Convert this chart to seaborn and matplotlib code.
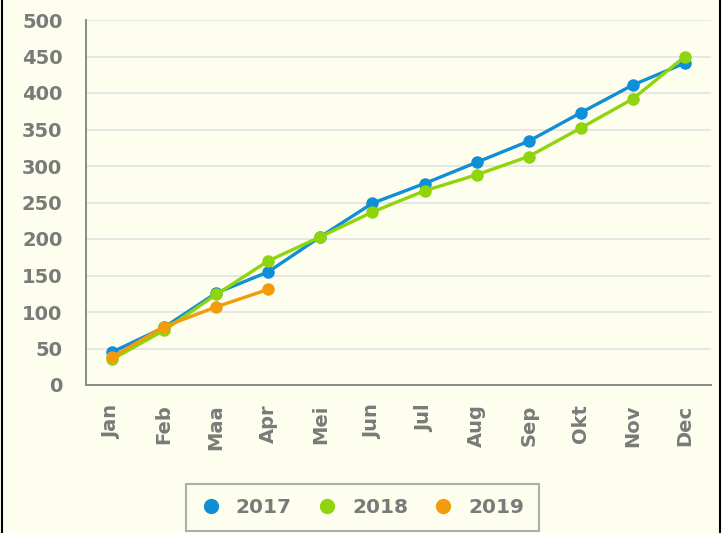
import matplotlib
matplotlib.use("Agg")
import matplotlib.pyplot as plt
from matplotlib.lines import Line2D
import seaborn as sns
import pandas as pd

# monthly cumulative values per year
months = ["Jan", "Feb", "Maa", "Apr", "Mei", "Jun", "Jul", "Aug", "Sep", "Okt", "Nov", "Dec"]
years = ["2017", "2018", "2019"]
values_2017 = [45, 79, 126, 155, 203, 249, 276, 305, 334, 373, 411, 441]
values_2018 = [35, 75, 124, 170, 203, 237, 266, 288, 313, 352, 392, 450]
values_2019 = [38, 80, 107, 131]
colors = ["#0f8fd6", "#8fd40c", "#f29c0c"]

rows = []
for year, vals in zip(years, [values_2017, values_2018, values_2019]):
    for i, v in enumerate(vals):
        rows.append({"pos": i, "value": v, "year": year})
df = pd.DataFrame(rows)

sns.set_style("white")
plt.rcParams["font.family"] = ["DejaVu Sans"]

bg = "#fdfeed"
text_col = "#7a7a7a"

fig = plt.figure(figsize=(7.25, 5.33), dpi=100, facecolor=bg)
ax = fig.add_axes([86 / 725, 1 - 385 / 533, (711 - 86) / 725, 365 / 533])
ax.set_facecolor(bg)

for y in range(50, 501, 50):
    ax.axhline(y, color="#e4e4e4", lw=1.3, zorder=0)

sns.lineplot(data=df, x="pos", y="value", hue="year", palette=colors,
             marker="o", markersize=9, markeredgewidth=0, lw=2.4,
             legend=False, ax=ax, sort=False)

ax.set_xlim(-0.5, 11.5)
ax.set_ylim(0, 500)
ax.set_xticks(range(len(months)))
ax.set_xticklabels(months, rotation=90)
ax.set_yticks(range(0, 501, 50))
ax.set_xlabel("")
ax.set_ylabel("")

for lab in ax.get_xticklabels() + ax.get_yticklabels():
    lab.set_fontweight("bold")
    lab.set_color(text_col)
    lab.set_fontsize(14)

ax.tick_params(axis="both", direction="out", length=8, width=1.3, color="#8a8a8a")
ax.tick_params(axis="y", pad=9)
ax.tick_params(axis="x", pad=6)
for side in ["top", "right"]:
    ax.spines[side].set_visible(False)
for side in ["left", "bottom"]:
    ax.spines[side].set_color("#8a8a8a")
    ax.spines[side].set_linewidth(1.4)

handles = [Line2D([], [], ls="", marker="o", markersize=11, color=c, markeredgewidth=0) for c in colors]
leg = fig.legend(handles, years, loc="lower center", bbox_to_anchor=(0.5, 0.0),
                 ncol=3, frameon=True, fancybox=False, handletextpad=0.75,
                 columnspacing=1.25, borderpad=0.7, handlelength=1.0,
                 borderaxespad=0.1, prop={"weight": "bold", "size": 14.5})
leg.get_frame().set_edgecolor("#9a9a9a")
leg.get_frame().set_linewidth(1.5)
leg.get_frame().set_facecolor(bg)
for t in leg.get_texts():
    t.set_color(text_col)

# left/right border lines of the image
fig.add_artist(Line2D([1.5 / 725, 1.5 / 725], [0, 1], color="black", lw=1.5))
fig.add_artist(Line2D([719.5 / 725, 719.5 / 725], [0, 1], color="black", lw=1.5))
fig.patches.append(plt.Rectangle((720.5 / 725, 0), 5 / 725, 1, transform=fig.transFigure,
                                 facecolor="white", edgecolor="none"))

fig.savefig("out.png", dpi=100, facecolor=bg)
